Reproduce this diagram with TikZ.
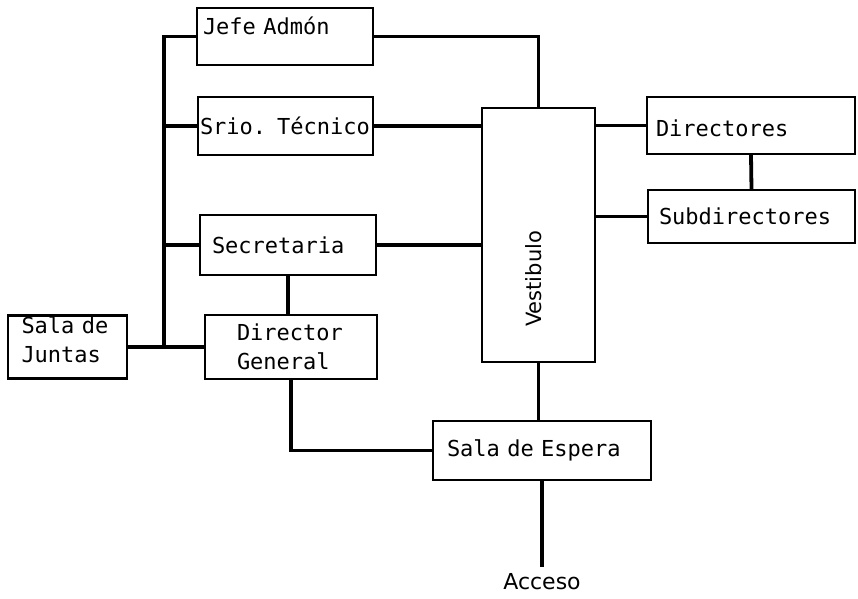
\documentclass[tikz,border=0pt]{standalone}
\usepackage{fontspec}
\usepackage{tikz}
\usetikzlibrary{positioning,calc}
\newfontfamily\boxfont{DejaVu Sans Mono}
\newfontfamily\signfont{DejaVu Sans}
\tikzstyle{room}=[draw,line width=1.1pt,align=left,inner ysep=0pt,font=\boxfont\fontsize{11}{14.5}\selectfont]
\tikzstyle{wire}=[line width=1.9pt]
\tikzstyle{sign}=[inner sep=1pt,font=\signfont\fontsize{11}{13}\selectfont]

\begin{document}
\begin{tikzpicture}[x=0.5pt,y=-0.5pt]
\useasboundingbox (0,0) rectangle (858,599);
\clip (0,0) rectangle (858,599);
% rooms
\node [room,minimum width=88pt,minimum height=28.5pt,text width=82pt,inner xsep=3pt,text height=8pt,text depth=10.3pt] (jefe) at (285,36.5) {Jefe Admón};
\node [room,minimum width=87.5pt,minimum height=29pt,text width=85.5pt,inner xsep=1pt] (srio) at (285.5,126) {Srio. Técnico};
\node [room,minimum width=88pt,minimum height=30pt,text width=76pt,inner xsep=6pt] (secre) at (288,245) {Secretaria};
\node [room,minimum width=86pt,minimum height=32pt,text width=54pt,inner xsep=16pt] (dirgen) at (291,347) {Director\\General};
\node [room,minimum width=59.5pt,minimum height=31.5pt,text width=46pt,inner xsep=6.75pt,text height=8pt,text depth=21.5pt] (juntas) at (67.5,347) {Sala de\\Juntas};
\node [room,minimum width=109pt,minimum height=29.5pt,text width=95pt,inner xsep=7pt] (espera) at (542,450.5) {Sala de Espera};
\node [room,minimum width=56.5pt,minimum height=127pt] (vest) at (538.5,235) {};
\node [sign,rotate=90,font=\signfont\fontsize{10.5}{12}\selectfont] (vestlbl) at (534,279) {Vestibulo};
\node [room,minimum width=104pt,minimum height=28.5pt,text width=95pt,inner xsep=4.5pt,text height=14pt,text depth=2.5pt] (dirs) at (751,125.5) {Directores};
\node [room,minimum width=103.5pt,minimum height=26.5pt,text width=92.5pt,inner xsep=5.5pt] (subdirs) at (751.5,216.5) {Subdirectores};
\node [sign] (acceso) at (542,582) {Acceso};

% left side
\coordinate (bus) at (164,347);
\draw [wire] (jefe.west) -| (bus);
\draw [wire] (srio.west) -- (srio.west -| bus);
\draw [wire] (secre.west) -- (secre.west -| bus);
\draw [wire] (juntas.east) -- (dirgen.west);
\draw [wire] (secre.south) -- (secre.south |- dirgen.north);
\draw [wire] (dirgen.south) |- (espera.west);

% vestibulo
\draw [wire] (jefe.east) -| (vest.north);
\draw [wire] (srio.east) -- (srio.east -| vest.west);
\draw [wire] (secre.east) -- (secre.east -| vest.west);
\draw [wire] (vest.south) -- (vest.south |- espera.north);
\draw [wire] (dirs.west) -- (dirs.west -| vest.east);
\draw [wire] (subdirs.west) -- (subdirs.west -| vest.east);
\draw [wire] (dirs.south) -- (subdirs.north);
\draw [wire] (espera.south) -- ($(espera.south |- acceso.north)+(0,-4)$);
\end{tikzpicture}
\end{document}
